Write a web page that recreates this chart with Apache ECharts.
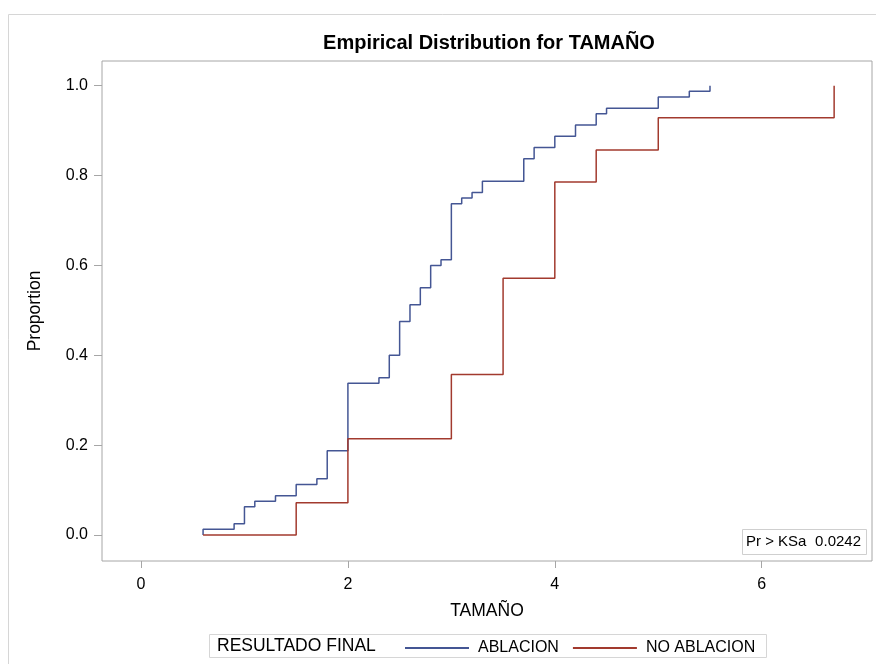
<!DOCTYPE html>
<html>
<head>
<meta charset="utf-8">
<script src="https://cdn.jsdelivr.net/npm/echarts@6/dist/echarts.min.js"></script>
<style>
  html, body { margin: 0; padding: 0; background: #fff; }
  #chart { width: 876px; height: 664px; }
</style>
</head>
<body>
<div id="chart"></div>
<script>
// Empirical CDF of TAMAÑO by RESULTADO FINAL (step points: value, cumulative proportion)
const ablacionX = [0.6, 0.6, 0.9, 1.0, 1.1, 1.3, 1.5, 1.7, 1.8, 2.0, 2.3, 2.4, 2.5, 2.6, 2.7, 2.8, 2.9, 3.0, 3.1, 3.2, 3.3, 3.7, 3.8, 4.0, 4.2, 4.4, 4.5, 5.0, 5.3, 5.5];
const ablacionY = [0, 0.0125, 0.025, 0.0625, 0.075, 0.0875, 0.1125, 0.125, 0.1875, 0.3375, 0.35, 0.4, 0.475, 0.5125, 0.55, 0.6, 0.6125, 0.7375, 0.75, 0.7625, 0.7875, 0.8375, 0.8625, 0.8875, 0.9125, 0.9375, 0.95, 0.975, 0.9875, 1.0];

const noAblacionX = [0.6, 1.5, 2.0, 3.0, 3.5, 4.0, 4.4, 5.0, 6.7];
const noAblacionY = [0, 0.0714, 0.2143, 0.3571, 0.5714, 0.7857, 0.8571, 0.9286, 1.0];

const xTicks = [0, 2, 4, 6];
const yTicks = [0, 0.2, 0.4, 0.6, 0.8, 1.0];

const seriesNames = ['ABLACION', 'NO ABLACION'];
const ksLabel = 'Pr > KSa';
const ksValue = '0.0242';

const zip = (xs, ys) => xs.map((x, i) => [x, ys[i]]);

const FONT = '"Liberation Sans", Arial, sans-serif';
const AXIS_GRAY = '#a6a6a6';

const chart = echarts.init(document.getElementById('chart'), null, { renderer: 'canvas' });

chart.setOption({
  animation: false,
  backgroundColor: '#ffffff',
  title: {
    text: 'Empirical Distribution for TAMAÑO',
    left: 484,
    top: 28,
    textAlign: 'center',
    textStyle: { fontFamily: FONT, fontSize: 20, fontWeight: 'bold', color: '#000' }
  },
  grid: {
    left: 102, right: 4, top: 61, bottom: 103,
    show: true, borderColor: AXIS_GRAY, borderWidth: 1, backgroundColor: 'transparent'
  },
  xAxis: {
    type: 'value',
    min: -0.377, max: 7.066,
    name: 'TAMAÑO',
    nameLocation: 'middle',
    nameGap: 41,
    nameTextStyle: { fontFamily: FONT, fontSize: 17.5, color: '#000' },
    splitLine: { show: false },
    axisLine: { show: false, onZero: false },
    axisTick: { show: true, length: 7, lineStyle: { color: AXIS_GRAY }, customValues: xTicks },
    axisLabel: { fontFamily: FONT, fontSize: 16, color: '#000', margin: 16, customValues: xTicks }
  },
  yAxis: {
    type: 'value',
    min: -0.058, max: 1.055,
    name: 'Proportion',
    nameLocation: 'middle',
    nameGap: 58,
    nameRotate: 90,
    nameTextStyle: { fontFamily: FONT, fontSize: 17.5, color: '#000' },
    splitLine: { show: false },
    axisLine: { show: false, onZero: false },
    axisTick: { show: true, length: 8, lineStyle: { color: AXIS_GRAY }, customValues: yTicks },
    axisLabel: {
      fontFamily: FONT, fontSize: 16, color: '#000', margin: 14, customValues: yTicks,
      formatter: v => v.toFixed(1)
    }
  },
  legend: {
    data: seriesNames,
    left: 399,
    top: 635,
    itemWidth: 64,
    itemHeight: 14,
    itemGap: 13,
    itemStyle: { opacity: 0 },
    textStyle: { fontFamily: FONT, fontSize: 16, color: '#000', padding: [0, 0, 0, 4] }
  },
  graphic: [
    { type: 'rect', shape: { x: 8.5, y: 14.5, width: 900, height: 700 }, style: { fill: 'none', stroke: '#d6d6d6', lineWidth: 1 }, silent: true, z: -1 },
    { type: 'rect', shape: { x: 209.5, y: 634.5, width: 557, height: 23 }, style: { fill: 'none', stroke: '#d6d6d6', lineWidth: 1 }, silent: true },
    { type: 'text', x: 217, y: 646, style: { text: 'RESULTADO FINAL', fontFamily: FONT, fontSize: 17.5, fill: '#000', textVerticalAlign: 'middle' }, silent: true },
    { type: 'rect', shape: { x: 742.5, y: 529.5, width: 124, height: 25 }, style: { fill: '#fff', stroke: '#cfcfcf', lineWidth: 1 }, silent: true, z: 10 },
    { type: 'text', x: 746, y: 542, style: { text: ksLabel, fontFamily: FONT, fontSize: 15, fill: '#000', textVerticalAlign: 'middle' }, silent: true, z: 11 },
    { type: 'text', x: 861, y: 542, style: { text: ksValue, fontFamily: FONT, fontSize: 15, fill: '#000', textAlign: 'right', textVerticalAlign: 'middle' }, silent: true, z: 11 }
  ],
  series: [
    {
      name: seriesNames[0],
      type: 'line',
      step: 'end',
      symbol: 'none',
      data: zip(ablacionX, ablacionY),
      lineStyle: { color: '#445694', width: 1.5 },
      itemStyle: { color: '#445694' }
    },
    {
      name: seriesNames[1],
      type: 'line',
      step: 'end',
      symbol: 'none',
      data: zip(noAblacionX, noAblacionY),
      lineStyle: { color: '#A23A2E', width: 1.5 },
      itemStyle: { color: '#A23A2E' }
    }
  ]
});
</script>
</body>
</html>
